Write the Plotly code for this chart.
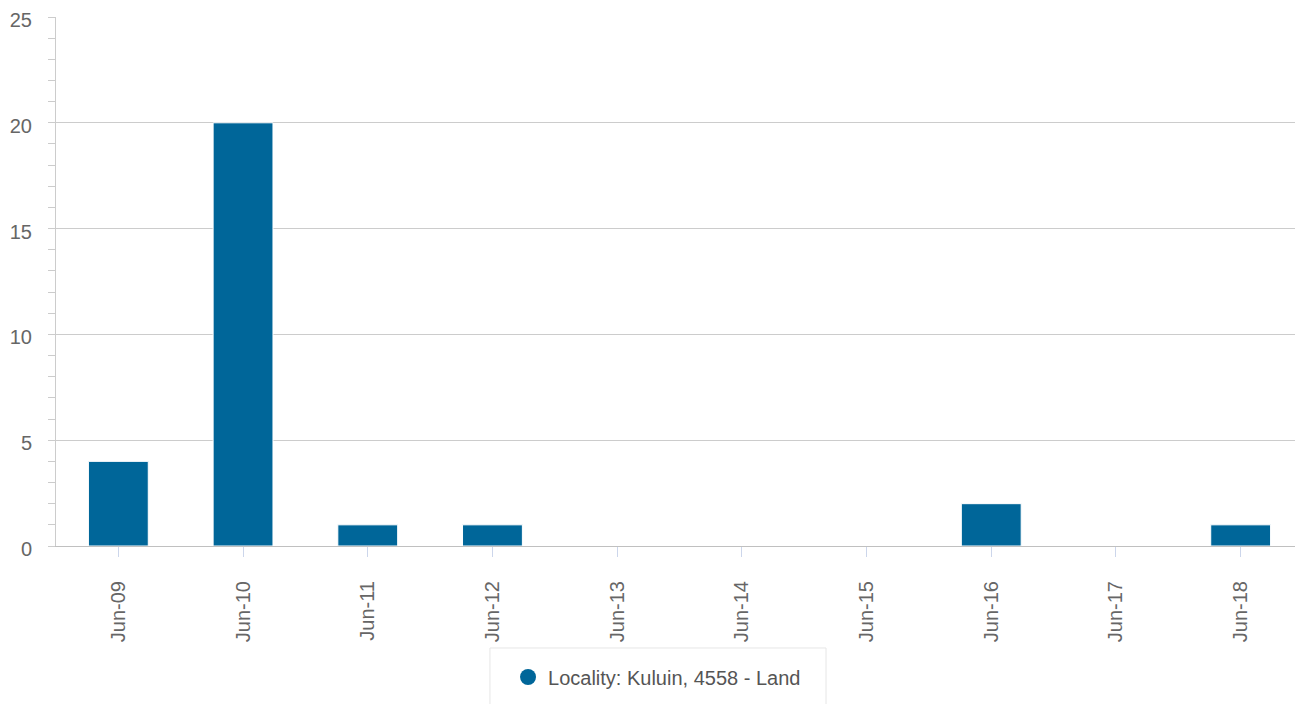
import plotly.graph_objects as go

categories = ["Jun-09", "Jun-10", "Jun-11", "Jun-12", "Jun-13",
              "Jun-14", "Jun-15", "Jun-16", "Jun-17", "Jun-18"]
values = [4, 20, 1, 1, 0, 0, 0, 2, 0, 1]
series_name = "Locality: Kuluin, 4558 - Land"
bar_color = "#006699"

fig = go.Figure()
fig.add_trace(go.Bar(
    x=categories, y=values, name=series_name,
    marker=dict(color=bar_color, line=dict(color="white", width=1)),
    width=0.48, showlegend=False,
))
fig.add_trace(go.Scatter(
    x=[None], y=[None], mode="markers", name=series_name,
    marker=dict(symbol="circle", size=20, color=bar_color),
    showlegend=True,
))

font_family = "Liberation Sans, Arial, sans-serif"
fig.update_layout(
    width=1303, height=704,
    margin=dict(l=48, r=8, t=9, b=166, autoexpand=False),
    paper_bgcolor="white", plot_bgcolor="white",
    font=dict(family=font_family, size=20, color="#666666"),
    xaxis=dict(
        type="category", range=[-0.5, 9.5], automargin=False,
        showgrid=False, showline=True, linecolor="#c0c0c0", linewidth=1,
        ticks="outside", ticklen=10, tickcolor="#ccd6eb", tickwidth=1,
        tickangle=-90, ticklabelstandoff=16,
        tickfont=dict(size=20, color="#666666"),
    ),
    yaxis=dict(
        range=[0, 25], dtick=5, tick0=0, automargin=False,
        showgrid=True, gridcolor="#cccccc", gridwidth=1,
        showline=True, linecolor="#cccccc", linewidth=1,
        ticks="outside", ticklen=7, tickcolor="#cccccc",
        ticklabelstandoff=12, ticklabelshift=3, ticklabeloverflow="allow",
        zeroline=False,
        tickfont=dict(size=20, color="#666666"),
        minor=dict(dtick=1, ticks="outside", ticklen=7, tickcolor="#cccccc", showgrid=False),
    ),
    legend=dict(
        orientation="h", x=0.3625, xanchor="left", y=-0.2476, yanchor="middle",
        bgcolor="rgba(0,0,0,0)", borderwidth=0,
        font=dict(size=20, color="#555555"),
        itemsizing="trace",
    ),
    shapes=[dict(
        type="rect", xref="paper", yref="paper",
        x0=0.348, x1=0.6175, y0=-0.310, y1=-0.1928,
        line=dict(color="#e6e6e6", width=1), fillcolor="white", layer="below",
    )],
)

fig.write_html("out.html")
